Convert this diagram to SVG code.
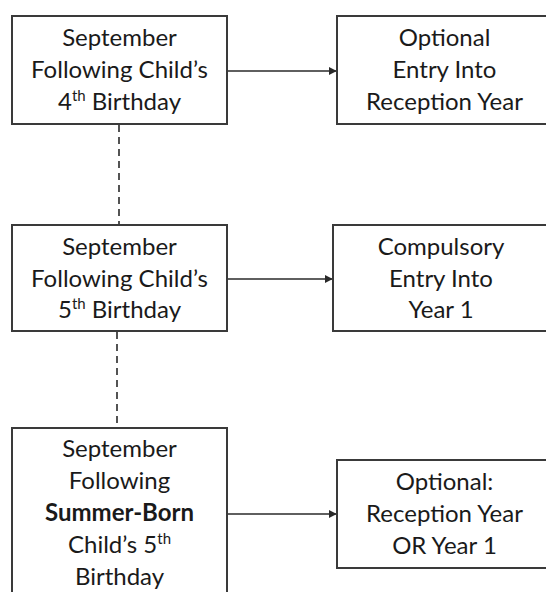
<svg xmlns="http://www.w3.org/2000/svg" width="546" height="592" viewBox="0 0 546 592">
<style>
.box{fill:#fff;stroke:#3a3a3a;stroke-width:2}
.t{font-family:Lato,"Open Sans","Liberation Sans",sans-serif;font-size:24px;fill:#1a1a1a;text-anchor:middle}
.sup{font-size:15px}
.b{font-weight:bold}
.arrow{stroke:#2a2a2a;stroke-width:1.6;fill:none;marker-end:url(#ah)}
.dash{stroke:#2a2a2a;stroke-width:1.6;fill:none;stroke-dasharray:7 5}
</style>
<defs>
<marker id="ah" viewBox="0 0 10 10" refX="9" refY="5" markerWidth="5" markerHeight="5" orient="auto" markerUnits="strokeWidth">
<path d="M0,0 L10,5 L0,10 z" fill="#2a2a2a"/>
</marker>
</defs>
<rect width="546" height="592" fill="#fff"/>
<g id="connectors">
<line class="arrow" x1="227" y1="71" x2="336" y2="71"/>
<line class="arrow" x1="227" y1="279" x2="332" y2="279"/>
<line class="arrow" x1="227" y1="514" x2="336" y2="514"/>
<line class="dash" x1="119" y1="125" x2="119" y2="224"/>
<line class="dash" x1="117" y1="332" x2="117" y2="427"/>
</g>
<g id="node1">
<rect class="box" x="12" y="16" width="215" height="108"/>
<text class="t" x="119.5" y="46">September</text>
<text class="t" x="119.5" y="78">Following Child’s</text>
<text class="t" x="119.5" y="110">4<tspan class="sup" dy="-9">th</tspan><tspan dy="9"> Birthday</tspan></text>
</g>
<g id="node2">
<rect class="box" x="337" y="16" width="215" height="108"/>
<text class="t" x="444.5" y="46">Optional</text>
<text class="t" x="444.5" y="78">Entry Into</text>
<text class="t" x="444.5" y="110">Reception Year</text>
</g>
<g id="node3">
<rect class="box" x="12" y="225" width="215" height="106"/>
<text class="t" x="119.5" y="255">September</text>
<text class="t" x="119.5" y="287">Following Child’s</text>
<text class="t" x="119.5" y="318">5<tspan class="sup" dy="-9">th</tspan><tspan dy="9"> Birthday</tspan></text>
</g>
<g id="node4">
<rect class="box" x="333" y="225" width="216" height="106"/>
<text class="t" x="441" y="255">Compulsory</text>
<text class="t" x="441" y="287">Entry Into</text>
<text class="t" x="441" y="318">Year 1</text>
</g>
<g id="node5">
<rect class="box" x="12" y="428" width="215" height="180"/>
<text class="t" x="119.5" y="457">September</text>
<text class="t" x="119.5" y="489">Following</text>
<text class="t b" x="119.5" y="521">Summer-Born</text>
<text class="t" x="119.5" y="553">Child’s 5<tspan class="sup" dy="-9">th</tspan></text>
<text class="t" x="119.5" y="585">Birthday</text>
</g>
<g id="node6">
<rect class="box" x="337" y="460" width="215" height="108"/>
<text class="t" x="444.5" y="490">Optional:</text>
<text class="t" x="444.5" y="522">Reception Year</text>
<text class="t" x="444.5" y="554">OR Year 1</text>
</g>
</svg>
